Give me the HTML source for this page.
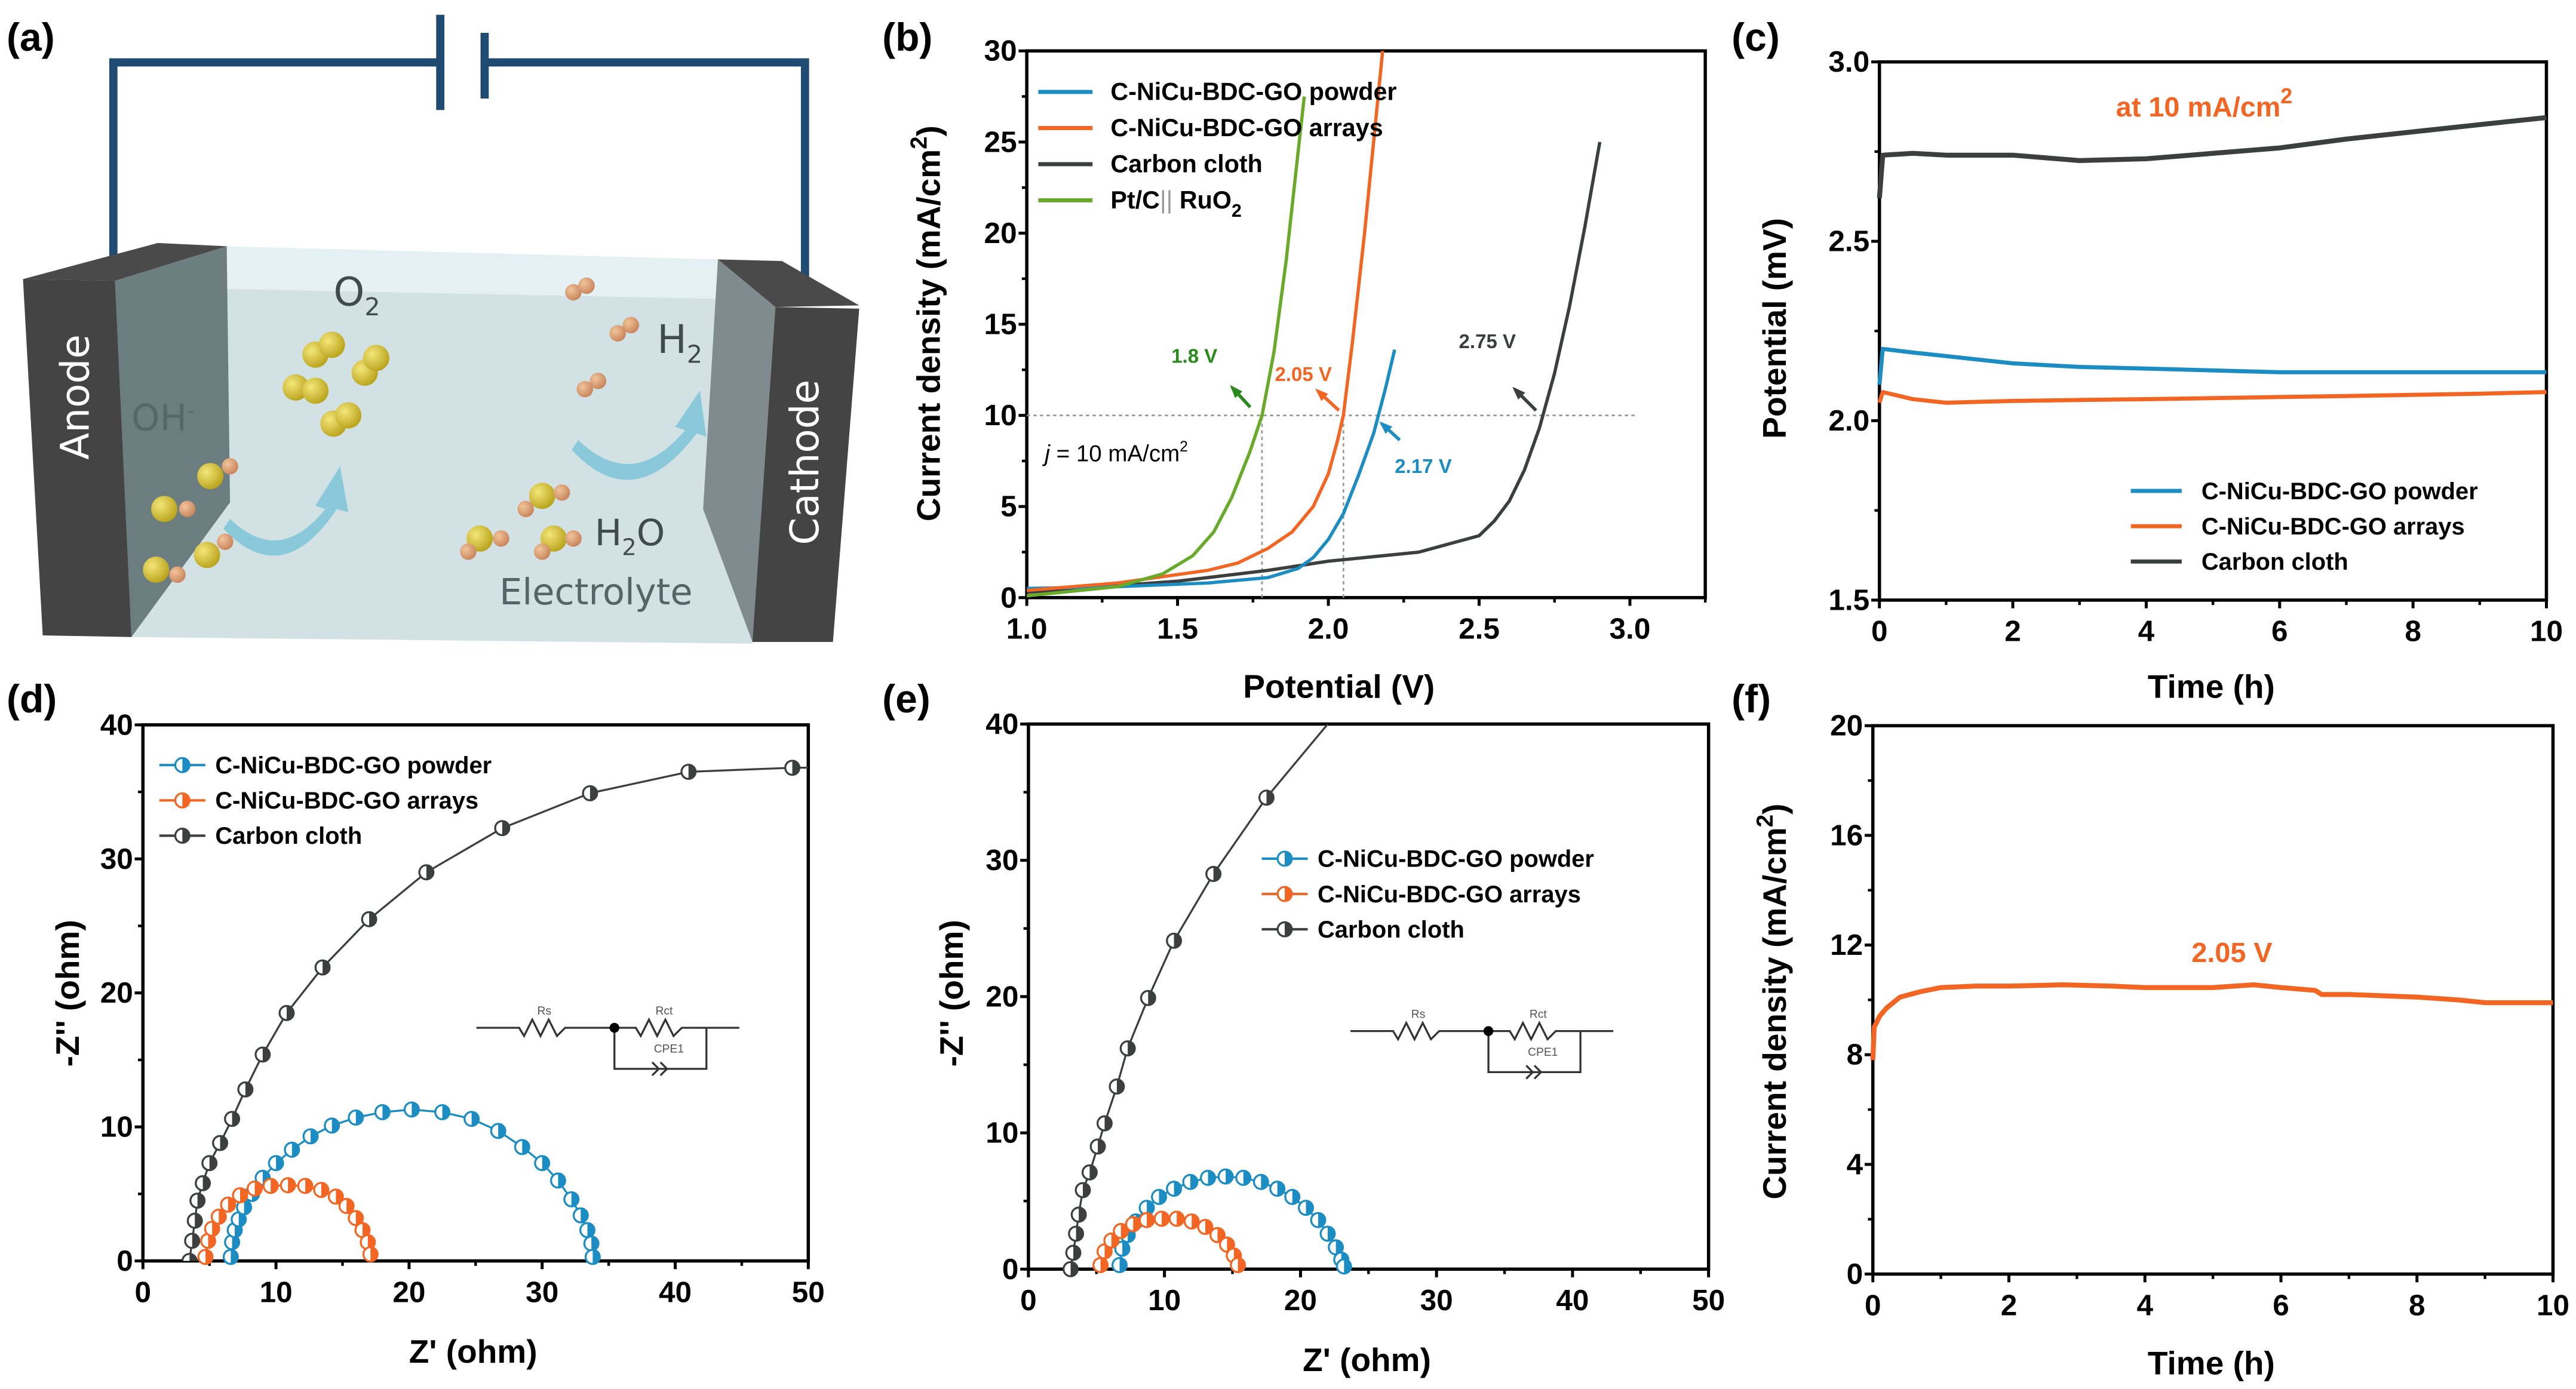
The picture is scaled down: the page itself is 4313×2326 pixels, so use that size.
<!DOCTYPE html>
<html><head><meta charset="utf-8"><style>
html,body{margin:0;padding:0;background:#fff;}
svg{display:block;font-family:"Liberation Sans",Arial,sans-serif;}
</style></head><body>
<svg id="fig" width="4313" height="2326" viewBox="0 0 1568 846" preserveAspectRatio="none" xmlns="http://www.w3.org/2000/svg">
<defs>
<clipPath id="clipb"><rect x="625" y="31" width="413" height="333"/></clipPath>
<clipPath id="clipe"><rect x="626" y="441" width="414" height="332"/></clipPath>
<clipPath id="clipd"><rect x="87" y="441" width="405" height="327"/></clipPath>
<radialGradient id="yel" cx="0.35" cy="0.35" r="0.7"><stop offset="0" stop-color="#f4e67a"/><stop offset="1" stop-color="#b8a21a"/></radialGradient>
<radialGradient id="org" cx="0.35" cy="0.35" r="0.7"><stop offset="0" stop-color="#f2c49a"/><stop offset="1" stop-color="#c7835a"/></radialGradient>
</defs>

<!-- Panel (a) schematic -->
<g>
<text x="4" y="31" font-size="24" font-weight="bold">(a)</text>
<polyline points="69,160 69,38 268,38" fill="none" stroke="#1f4a72" stroke-width="5"/>
<polyline points="295,38 490,38 490,172" fill="none" stroke="#1f4a72" stroke-width="5"/>
<line x1="268" y1="9" x2="268" y2="67" stroke="#1f4a72" stroke-width="5"/>
<line x1="295" y1="20" x2="295" y2="60" stroke="#1f4a72" stroke-width="5"/>
<polygon points="70,171 138,150 437,158 472,187 458,392 80,388" fill="#e3f1f5"/>
<polygon points="70,178 138,176 437,182 472,190 458,392 80,388" fill="#d2e1e4"/>
<polygon points="70,171 138,150 140,306 80,388" fill="#66777a" opacity="0.95"/>
<polygon points="14,170 96,148 138,150 70,171" fill="#4a4a4a"/>
<polygon points="14,170 70,171 80,388 26,387" fill="#444"/>
<polygon points="437,158 472,187 458,391 428,310" fill="#7f8b8e"/>
<polygon points="437,158 476,159 523,186 472,187" fill="#4a4a4a"/>
<polygon points="472,187 523,188 507,391 458,391" fill="#444"/>
<text transform="translate(54,280) rotate(-90)" font-size="24" fill="#fff" font-family="DejaVu Sans,sans-serif">Anode</text>
<text transform="translate(498,332) rotate(-90)" font-size="24" fill="#fff" font-family="DejaVu Sans,sans-serif">Cathode</text>
<text x="203" y="186" font-size="24" fill="#3f4b4f" font-family="DejaVu Sans,sans-serif">O<tspan font-size="15" dy="6">2</tspan></text>
<text x="400" y="215" font-size="24" fill="#3f4b4f" font-family="DejaVu Sans,sans-serif">H<tspan font-size="15" dy="6">2</tspan></text>
<text x="80" y="262" font-size="22" fill="#56676a" font-family="DejaVu Sans,sans-serif">OH<tspan font-size="12" dy="-8">-</tspan></text>
<text x="362" y="332" font-size="22" fill="#3f4b4f" font-family="DejaVu Sans,sans-serif">H<tspan font-size="14" dy="6">2</tspan><tspan dy="-6">O</tspan></text>
<text x="304" y="368" font-size="22" fill="#556468" font-family="DejaVu Sans,sans-serif">Electrolyte</text>
<g>
<circle cx="192" cy="216" r="8" fill="url(#yel)"/><circle cx="202" cy="210" r="8" fill="url(#yel)"/>
<circle cx="222" cy="227" r="8" fill="url(#yel)"/><circle cx="229" cy="218" r="8" fill="url(#yel)"/>
<circle cx="180" cy="236" r="8" fill="url(#yel)"/><circle cx="192" cy="238" r="8" fill="url(#yel)"/>
<circle cx="203" cy="258" r="8" fill="url(#yel)"/><circle cx="212" cy="253" r="8" fill="url(#yel)"/>
<circle cx="100" cy="310" r="8" fill="url(#yel)"/><circle cx="114" cy="310" r="5" fill="url(#org)"/>
<circle cx="128" cy="290" r="8" fill="url(#yel)"/><circle cx="140" cy="284" r="5" fill="url(#org)"/>
<circle cx="95" cy="347" r="8" fill="url(#yel)"/><circle cx="108" cy="350" r="5" fill="url(#org)"/>
<circle cx="126" cy="338" r="8" fill="url(#yel)"/><circle cx="137" cy="330" r="5" fill="url(#org)"/>
<circle cx="330" cy="302" r="8" fill="url(#yel)"/><circle cx="342" cy="300" r="5" fill="url(#org)"/><circle cx="320" cy="310" r="5" fill="url(#org)"/>
<circle cx="292" cy="328" r="8" fill="url(#yel)"/><circle cx="305" cy="328" r="5" fill="url(#org)"/><circle cx="285" cy="336" r="5" fill="url(#org)"/>
<circle cx="337" cy="328" r="8" fill="url(#yel)"/><circle cx="349" cy="328" r="5" fill="url(#org)"/><circle cx="330" cy="336" r="5" fill="url(#org)"/>
<circle cx="349" cy="178" r="5" fill="url(#org)"/><circle cx="357" cy="174" r="5" fill="url(#org)"/>
<circle cx="376" cy="203" r="5" fill="url(#org)"/><circle cx="384" cy="198" r="5" fill="url(#org)"/>
<circle cx="356" cy="237" r="5" fill="url(#org)"/><circle cx="364" cy="232" r="5" fill="url(#org)"/>
</g>
<path d="M140,316 Q170,345 198,310 L192,308 L207,284 L212,312 L205,310 Q172,360 136,322 Z" fill="#7cc4d8" opacity="0.85"/>
<path d="M352,268 Q385,300 417,262 L411,260 L426,238 L430,266 L424,264 Q386,315 348,274 Z" fill="#7cc4d8" opacity="0.85"/>
</g>

<g id="plots"></g>
</svg>
<script>
// ---------- data: panel b (polarization curves) ----------
const bPowderV=[1.0,1.3,1.6,1.8,1.9,1.95,2.0,2.05,2.1,2.15,2.19,2.22];
const bPowderJ=[0.5,0.6,0.8,1.1,1.6,2.2,3.2,4.6,6.7,9.0,11.5,13.6];
const bArraysV=[1.0,1.3,1.6,1.7,1.8,1.88,1.95,2.0,2.03,2.05,2.08,2.12,2.15,2.18];
const bArraysJ=[0.4,0.8,1.5,1.9,2.7,3.6,5.0,6.8,8.6,10.0,14.0,20.0,25.0,30.0];
const bCarbonV=[1.0,1.5,1.8,2.0,2.3,2.5,2.55,2.6,2.65,2.7,2.75,2.8,2.85,2.9];
const bCarbonJ=[0.3,0.9,1.5,2.0,2.5,3.4,4.2,5.3,7.0,9.3,12.3,16.0,20.3,25.0];
const bPtV=[1.0,1.3,1.45,1.55,1.62,1.68,1.74,1.78,1.82,1.86,1.9,1.92];
const bPtJ=[0.1,0.6,1.3,2.3,3.6,5.5,8.0,10.0,13.5,18.5,24.5,27.5];
// ---------- panel c (chronopotentiometry) ----------
const cTime=[0,0.05,0.5,1,2,3,4,5,6,7,8,9,10];
const cCarbon=[2.62,2.74,2.745,2.74,2.74,2.725,2.73,2.745,2.76,2.785,2.805,2.825,2.845];
const cPowder=[2.10,2.20,2.19,2.18,2.16,2.15,2.145,2.14,2.135,2.135,2.135,2.135,2.135];
const cArrays=[2.05,2.08,2.06,2.05,2.055,2.058,2.06,2.063,2.066,2.069,2.072,2.075,2.08];
// ---------- panel d (Nyquist) ----------
const dPowderRe=[6.6,6.7,6.9,7.2,7.6,8.2,9.0,10.0,11.2,12.6,14.2,16,18,20.2,22.5,24.7,26.7,28.5,30,31.2,32.2,32.9,33.4,33.7,33.8];
const dPowderIm=[0.3,1.4,2.3,3.1,4.0,5.0,6.2,7.3,8.3,9.3,10.1,10.7,11.1,11.3,11.1,10.6,9.7,8.5,7.3,6.0,4.6,3.4,2.3,1.3,0.3];
const dArraysRe=[4.7,4.9,5.2,5.7,6.4,7.3,8.4,9.6,10.9,12.2,13.4,14.5,15.3,16.0,16.5,16.9,17.1];
const dArraysIm=[0.3,1.5,2.4,3.3,4.2,4.9,5.4,5.6,5.65,5.6,5.3,4.8,4.1,3.2,2.3,1.4,0.5];
const dCarbonRe=[3.5,3.7,3.9,4.1,4.5,5.0,5.8,6.7,7.7,9.0,10.8,13.5,17.0,21.3,27.0,33.6,41.0,48.8,50.5];
const dCarbonIm=[0,1.5,3.0,4.5,5.8,7.3,8.8,10.6,12.8,15.4,18.5,21.9,25.5,29.0,32.3,34.9,36.5,36.8,36.8];
// ---------- panel e (Nyquist) ----------
const ePowderRe=[6.7,6.9,7.3,7.9,8.7,9.6,10.7,11.9,13.2,14.5,15.8,17.1,18.3,19.4,20.4,21.3,22.0,22.6,23.0,23.2];
const ePowderIm=[0.3,1.5,2.5,3.5,4.5,5.3,5.9,6.4,6.7,6.8,6.7,6.4,5.9,5.3,4.5,3.6,2.6,1.6,0.7,0.2];
const eArraysRe=[5.3,5.6,6.1,6.8,7.7,8.7,9.8,10.9,12.0,13.0,13.9,14.6,15.1,15.4];
const eArraysIm=[0.3,1.3,2.1,2.8,3.3,3.6,3.7,3.7,3.5,3.1,2.5,1.8,1.0,0.3];
const eCarbonRe=[3.1,3.3,3.5,3.7,4.0,4.5,5.1,5.6,6.5,7.3,8.8,10.7,13.6,17.5,22.0];
const eCarbonIm=[0,1.2,2.6,4.0,5.8,7.1,9.0,10.7,13.4,16.2,19.9,24.1,29.0,34.6,40.0];
// ---------- panel f (chronoamperometry) ----------
const fTime=[0,0.02,0.1,0.2,0.4,0.7,1.0,1.5,2.0,2.8,3.5,4.0,5.0,5.6,6.0,6.5,6.6,7.0,8.0,8.6,9.0,10.0];
const fCurrent=[7.8,9.0,9.4,9.7,10.1,10.3,10.45,10.5,10.5,10.55,10.5,10.45,10.45,10.55,10.45,10.35,10.2,10.2,10.1,10.0,9.9,9.9];
// ---------- ticks ----------
const bXTicks=[1.0,1.5,2.0,2.5,3.0], bYTicks=[0,5,10,15,20,25,30];
const cXTicks=[0,2,4,6,8,10], cYTicks=[1.5,2.0,2.5,3.0];
const nyTicksX=[0,10,20,30,40,50], nyTicksY=[0,10,20,30,40];
const fXTicks=[0,2,4,6,8,10], fYTicks=[0,4,8,12,16,20];

const NS="http://www.w3.org/2000/svg";
const root=document.getElementById('plots');
function mk(tag,attrs,parent){const e=document.createElementNS(NS,tag);for(const k in attrs)e.setAttribute(k,attrs[k]);(parent||root).appendChild(e);return e;}
function lin(d0,d1,p0,p1){return v=>p0+(v-d0)/(d1-d0)*(p1-p0);}
const BLUE="#1b8dc2",ORANGE="#f26522",GREY="#3d3f3f",GREEN="#6aaa2a";

function axes(name,sx,sy,xmin,xmax,ymin,ymax,xt,xminorStep,yt,yminorStep,xfmt,yfmt){
  const g=mk('g',{});
  
  
  const x0=sx(xmin),x1=sx(xmax),y0=sy(ymin),y1=sy(ymax);
  const r=mk('rect',{x:x0,y:y1,width:x1-x0,height:y0-y1,fill:'none',stroke:'#000','stroke-width':2},g);
  
  
  for(let v=xmin;v<=xmax+1e-9;v+=xminorStep){mk('line',{x1:sx(v),x2:sx(v),y1:y0,y2:y0+3,stroke:'#000','stroke-width':1.6},g);}
  for(let v=ymin;v<=ymax+1e-9;v+=yminorStep){mk('line',{x1:x0,x2:x0-3,y1:sy(v),y2:sy(v),stroke:'#000','stroke-width':1.6},g);}
  xt.forEach(v=>{mk('line',{x1:sx(v),x2:sx(v),y1:y0,y2:y0+5,stroke:'#000','stroke-width':1.8},g);
    const t=mk('text',{x:sx(v),y:y0+25,'font-size':18,'font-weight':'bold','text-anchor':'middle'},g);t.textContent=xfmt(v);
    
    });
  yt.forEach(v=>{mk('line',{x1:x0,x2:x0-5,y1:sy(v),y2:sy(v),stroke:'#000','stroke-width':1.8},g);
    const t=mk('text',{x:x0-6,y:sy(v)+6,'font-size':18,'font-weight':'bold','text-anchor':'end'},g);t.textContent=yfmt(v);
    
    });
  return g;
}
function txt(x,y,s,attrs,name){const t=mk('text',Object.assign({x:x,y:y},attrs));t.innerHTML=s;
  
  return t;}
function vtxt(x,y,s,size,name){const t=mk('text',{transform:`translate(${x},${y}) rotate(-90)`,'font-size':size,'font-weight':'bold','text-anchor':'middle'});t.innerHTML=s;
  
  return t;}
function line(xs,ys,sx,sy,color,w,name,clip){const p=xs.map((v,i)=>sx(v).toFixed(1)+','+sy(ys[i]).toFixed(1)).join(' ');
  const a={points:p,fill:'none',stroke:color,'stroke-width':w,'stroke-linejoin':'round'};if(clip)a['clip-path']='url(#'+clip+')';
  const e=mk('polyline',a);
  
  return e;}
function halfMarker(x,y,color,parent){const g=mk('g',{},parent);
  mk('circle',{cx:x,cy:y,r:4.3,fill:'#fff',stroke:color,'stroke-width':1.2},g);
  mk('path',{d:`M${x},${y-4.3} A4.3,4.3 0 0 1 ${x},${y+4.3} Z`,fill:color},g);return g;}
function markers(xs,ys,sx,sy,color,name,clip){const g=mk('g',clip?{'clip-path':'url(#'+clip+')'}:{});
  
  
  xs.forEach((v,i)=>{if(v<=50)halfMarker(sx(v),sy(ys[i]),color,g);});return g;}
function legLine(x1,x2,y,color,w,name){const e=mk('line',{x1:x1,x2:x2,y1:y,y2:y,stroke:color,'stroke-width':w});
  
  }
function legMark(x1,x2,y,color,name){legLine(x1,x2,y,color,1.5,name);halfMarker((x1+x2)/2,y,color);}
const f1=v=>v.toFixed(1), f0=v=>String(v);

// ===== panel b =====
{const sx=lin(1.0,3.25,625,1038), sy=lin(0,30,364,31);
 txt(537,31,'(b)',{'font-size':24,'font-weight':'bold'},'panel-label-b');
 axes('panel-b',sx,sy,1.0,3.25,0,30,bXTicks,0.25,bYTicks,2.5,f1,f0);
 const d=mk('g',{stroke:'#999','stroke-width':1,'stroke-dasharray':'2,2',fill:'none'});
 
 
 mk('line',{x1:sx(1.0),x2:sx(3.02),y1:sy(10),y2:sy(10)},d);
 mk('line',{x1:sx(1.78),x2:sx(1.78),y1:sy(0),y2:sy(10)},d);
 mk('line',{x1:sx(2.05),x2:sx(2.05),y1:sy(0),y2:sy(10)},d);
 line(bCarbonV,bCarbonJ,sx,sy,GREY,2,'carbon-cloth-curve','clipb');
 line(bPowderV,bPowderJ,sx,sy,BLUE,2,'powder-curve','clipb');
 line(bArraysV,bArraysJ,sx,sy,ORANGE,2,'arrays-curve','clipb');
 line(bPtV,bPtJ,sx,sy,GREEN,2,'ptc-ruo2-curve','clipb');
 const L=[['C-NiCu-BDC-GO powder',BLUE],['C-NiCu-BDC-GO arrays',ORANGE],['Carbon cloth',GREY],['Pt/C<tspan font-weight="normal" fill="#999">||</tspan> RuO<tspan font-size="11" dy="5">2</tspan>',GREEN]];
 L.forEach((l,i)=>{legLine(632,665,56+i*22,l[1],2.5,'legend-b-line');txt(676,61+i*22,l[0],{'font-size':15,'font-weight':'bold'},'legend-b-entry');});
 txt(713,221,'1.8 V',{'font-size':12,'font-weight':'bold',fill:'#2a8a1e'},'annotation-1-8v');
 txt(776,232,'2.05 V',{'font-size':12,'font-weight':'bold',fill:ORANGE},'annotation-2-05v');
 txt(849,288,'2.17 V',{'font-size':12,'font-weight':'bold',fill:BLUE},'annotation-2-17v');
 txt(888,212,'2.75 V',{'font-size':12,'font-weight':'bold',fill:GREY},'annotation-2-75v');
 txt(636,281,'<tspan font-style="italic">j</tspan> = 10 mA/cm<tspan font-size="9" dy="-6">2</tspan>',{'font-size':14},'annotation-j-10');
 [[761,248,750,236,'#2a8a1e'],[815,250,802,238,ORANGE],[852,268,841,258,BLUE],[935,250,922,237,GREY]].forEach(a=>{
   const e=mk('line',{x1:a[0],y1:a[1],x2:a[2],y2:a[3],stroke:a[4],'stroke-width':2});
   
   
   const ang=Math.atan2(a[3]-a[1],a[2]-a[0]);const hx=a[2],hy=a[3];
   mk('polygon',{points:`${hx+2*Math.cos(ang)},${hy+2*Math.sin(ang)} ${hx-6*Math.cos(ang)+3*Math.sin(ang)},${hy-6*Math.sin(ang)-3*Math.cos(ang)} ${hx-6*Math.cos(ang)-3*Math.sin(ang)},${hy-6*Math.sin(ang)+3*Math.cos(ang)}`,fill:a[4]});});
 vtxt(572,197,'Current density (mA/cm<tspan font-size="14" dy="-8">2</tspan><tspan dy="8">)</tspan>',20,'panel-b-y-title');
 txt(815,425,'Potential (V)',{'font-size':20,'font-weight':'bold','text-anchor':'middle'},'panel-b-x-title');
}
// ===== panel c =====
{const sx=lin(0,10,1144,1550), sy=lin(1.5,3.0,365.5,37.7);
 txt(1054,31,'(c)',{'font-size':24,'font-weight':'bold'},'panel-label-c');
 axes('panel-c',sx,sy,0,10,1.5,3.0,cXTicks,1,cYTicks,0.25,f0,f1);
 line(cTime,cCarbon,sx,sy,GREY,3,'carbon-cloth-stability');
 line(cTime,cPowder,sx,sy,BLUE,2.5,'powder-stability');
 line(cTime,cArrays,sx,sy,ORANGE,2.5,'arrays-stability');
 txt(1288,71,'at 10 mA/cm<tspan font-size="13" dy="-8">2</tspan>',{'font-size':17,'font-weight':'bold',fill:ORANGE},'annotation-at-10ma');
 [['C-NiCu-BDC-GO powder',BLUE],['C-NiCu-BDC-GO arrays',ORANGE],['Carbon cloth',GREY]].forEach((l,i)=>{legLine(1297,1328,299+i*21.5,l[1],2.5,'legend-c-line');txt(1340,304+i*21.5,l[0],{'font-size':14.5,'font-weight':'bold'},'legend-c-entry');});
 vtxt(1087,200,'Potential (mV)',20,'panel-c-y-title');
 txt(1346,425,'Time (h)',{'font-size':20,'font-weight':'bold','text-anchor':'middle'},'panel-c-x-title');
}
function circuit(dx,dy,name){const g=mk('g',{fill:'none',stroke:'#333','stroke-width':1.2});
 
 
 const y=626+dy;
 mk('polyline',{points:`${290+dx},${y} ${316+dx},${y} ${319+dx},${y+5} ${324+dx},${y-5} ${329+dx},${y+5} ${334+dx},${y-5} ${339+dx},${y+5} ${344+dx},${y} ${387+dx},${y} ${390+dx},${y+5} ${395+dx},${y-5} ${400+dx},${y+5} ${405+dx},${y-5} ${410+dx},${y+5} ${415+dx},${y} ${450+dx},${y}`},g);
 mk('polyline',{points:`${374+dx},${y} ${374+dx},${y+25} ${430+dx},${y+25} ${430+dx},${y}`},g);
 mk('path',{d:`M${397+dx},${y+21} l4,4 l-4,4 M${402+dx},${y+21} l4,4 l-4,4`},g);
 mk('circle',{cx:374+dx,cy:y,r:3,fill:'#000',stroke:'none'},g);
 [['Rs',327,-8],['Rct',399,-8],['CPE1',398,15]].forEach(l=>{const t=mk('text',{x:l[1]+dx,y:y+l[2],'font-size':7,fill:'#555',stroke:'none'},g);t.textContent=l[0];});}
// ===== panel d =====
{const sx=lin(0,50,87,492), sy=lin(0,40,768,441.5);
 txt(4,434,'(d)',{'font-size':24,'font-weight':'bold'},'panel-label-d');
 axes('panel-d',sx,sy,0,50,0,40,nyTicksX,5,nyTicksY,5,f0,f0);
 line(dCarbonRe,dCarbonIm,sx,sy,GREY,1.2,'carbon-cloth-nyquist-line','clipd');
 markers(dCarbonRe,dCarbonIm,sx,sy,GREY,'carbon-cloth-nyquist-markers','clipd');
 line(dPowderRe,dPowderIm,sx,sy,BLUE,1.2,'powder-nyquist-line');
 markers(dPowderRe,dPowderIm,sx,sy,BLUE,'powder-nyquist-markers');
 line(dArraysRe,dArraysIm,sx,sy,ORANGE,1.2,'arrays-nyquist-line');
 markers(dArraysRe,dArraysIm,sx,sy,ORANGE,'arrays-nyquist-markers');
 [['C-NiCu-BDC-GO powder',BLUE],['C-NiCu-BDC-GO arrays',ORANGE],['Carbon cloth',GREY]].forEach((l,i)=>{legMark(97,125,466+i*21.5,l[1],'legend-d-marker');txt(131,471+i*21.5,l[0],{'font-size':14.5,'font-weight':'bold'},'legend-d-entry');});
 circuit(0,0,'equivalent-circuit-d');
 vtxt(48,605,'-Z\'\' (ohm)',20,'panel-d-y-title');
 txt(288,830,'Z\' (ohm)',{'font-size':20,'font-weight':'bold','text-anchor':'middle'},'panel-d-x-title');
}
// ===== panel e =====
{const sx=lin(0,50,626,1040), sy=lin(0,40,773,441);
 txt(537,434,'(e)',{'font-size':24,'font-weight':'bold'},'panel-label-e');
 axes('panel-e',sx,sy,0,50,0,40,nyTicksX,5,nyTicksY,5,f0,f0);
 line(eCarbonRe,eCarbonIm,sx,sy,GREY,1.2,'carbon-cloth-nyquist-line-e','clipe');
 markers(eCarbonRe.slice(0,-1),eCarbonIm.slice(0,-1),sx,sy,GREY,'carbon-cloth-nyquist-markers-e');
 line(ePowderRe,ePowderIm,sx,sy,BLUE,1.2,'powder-nyquist-line-e');
 markers(ePowderRe,ePowderIm,sx,sy,BLUE,'powder-nyquist-markers-e');
 line(eArraysRe,eArraysIm,sx,sy,ORANGE,1.2,'arrays-nyquist-line-e');
 markers(eArraysRe,eArraysIm,sx,sy,ORANGE,'arrays-nyquist-markers-e');
 [['C-NiCu-BDC-GO powder',BLUE],['C-NiCu-BDC-GO arrays',ORANGE],['Carbon cloth',GREY]].forEach((l,i)=>{legMark(768,796,523+i*21.5,l[1],'legend-e-marker');txt(802,528+i*21.5,l[0],{'font-size':14.5,'font-weight':'bold'},'legend-e-entry');});
 circuit(532,2,'equivalent-circuit-e');
 vtxt(586,605,'-Z\'\' (ohm)',20,'panel-e-y-title');
 txt(832,835,'Z\' (ohm)',{'font-size':20,'font-weight':'bold','text-anchor':'middle'},'panel-e-x-title');
}
// ===== panel f =====
{const sx=lin(0,10,1140,1554), sy=lin(0,20,776,442);
 txt(1054,434,'(f)',{'font-size':24,'font-weight':'bold'},'panel-label-f');
 axes('panel-f',sx,sy,0,10,0,20,fXTicks,1,fYTicks,2,f0,f0);
 line(fTime,fCurrent,sx,sy,ORANGE,3,'arrays-current-stability');
 txt(1334,586,'2.05 V',{'font-size':17,'font-weight':'bold',fill:ORANGE},'annotation-2-05v-f');
 vtxt(1087,610,'Current density (mA/cm<tspan font-size="14" dy="-8">2</tspan><tspan dy="8">)</tspan>',20,'panel-f-y-title');
 txt(1346,837,'Time (h)',{'font-size':20,'font-weight':'bold','text-anchor':'middle'},'panel-f-x-title');
}
</script>
</body></html>
